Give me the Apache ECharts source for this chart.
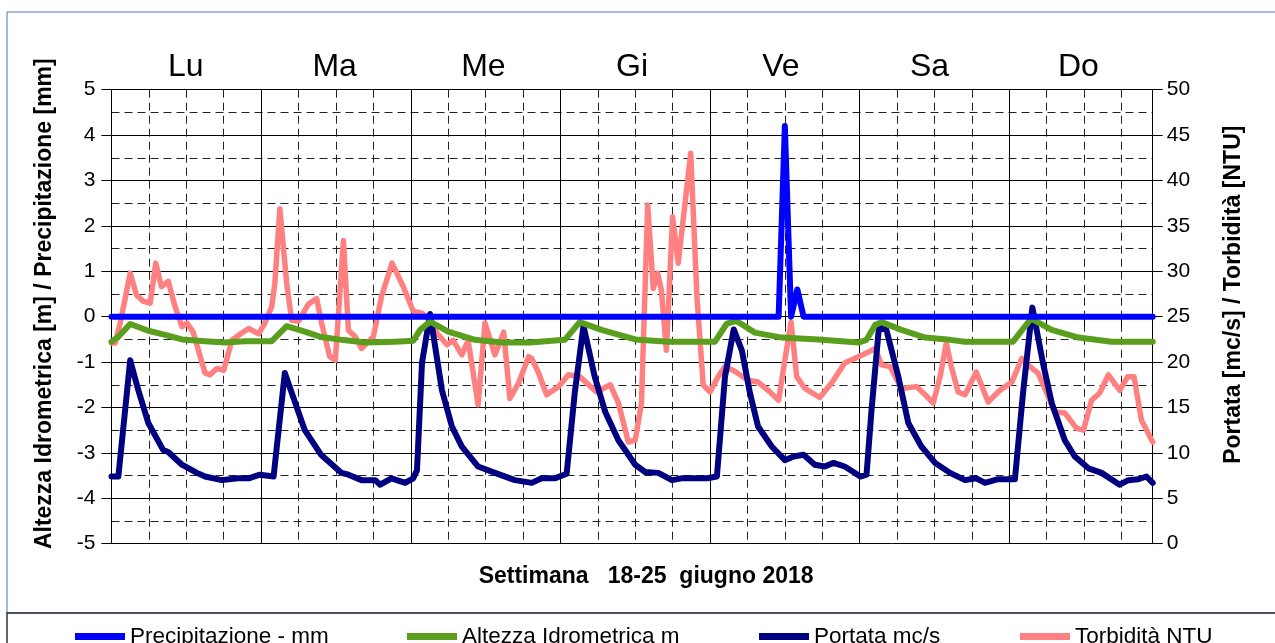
<!DOCTYPE html>
<html>
<head>
<meta charset="utf-8">
<script src="https://cdn.jsdelivr.net/npm/echarts@6/dist/echarts.min.js"></script>
<style>
  html, body { margin: 0; padding: 0; background: #fff; }
  #chart { width: 1275px; height: 643px; }
</style>
</head>
<body>
<div id="chart"></div>
<script>
// days shown on top of the chart
const dayLabels = ['Lu', 'Ma', 'Me', 'Gi', 'Ve', 'Sa', 'Do'];

// x = hours from monday 00:00, y = value
const precipitazione = [[0, 0], [107, 0], [108, 4.2], [109, 0], [110, 0.6], [111, 0], [167, 0]];

const altezza = [
  [0, -0.55], [1.1, -0.44], [3, -0.16], [5.9, -0.31], [8.6, -0.4], [11.3, -0.5], [15, -0.54], [18.2, -0.57],
  [21.4, -0.54], [25.7, -0.54], [28.1, -0.21], [31, -0.33], [33.4, -0.44], [36.9, -0.51], [40.7, -0.57],
  [45.5, -0.55], [48.4, -0.53], [49.5, -0.29], [51.1, -0.11], [54, -0.33], [58.3, -0.51], [62.6, -0.57],
  [67.1, -0.57], [72.7, -0.51], [75.1, -0.12], [78.6, -0.29], [84, -0.5], [89.3, -0.55], [96.8, -0.55],
  [98.7, -0.15], [100.2, -0.09], [103.2, -0.35], [107.5, -0.46], [113.4, -0.5], [119.8, -0.57], [121.1, -0.51],
  [122.5, -0.18], [123.5, -0.12], [126.7, -0.29], [130.5, -0.46], [134.5, -0.51], [136.9, -0.55], [144.6, -0.55],
  [147.5, -0.04], [150.8, -0.29], [155.1, -0.46], [160.4, -0.55], [167, -0.55]
];

const portata = [
  [0, 7.4], [1.1, 7.4], [3, 20.2], [4.3, 16.9], [5.9, 13.3], [8.3, 10.3], [9.1, 10.1], [11.3, 8.7], [13.7, 7.8],
  [15, 7.4], [17.7, 7.0], [20.3, 7.2], [22, 7.2], [23.8, 7.6], [26, 7.4], [27.8, 18.8], [31, 12.5], [33.6, 9.8],
  [36.9, 7.8], [38, 7.6], [40.1, 7.0], [42.3, 7.0], [43.1, 6.5], [44.9, 7.2], [47.1, 6.7], [48.4, 7.2], [49, 8.1],
  [49.8, 19.9], [51.1, 25.3], [53, 16.9], [54.6, 12.9], [56.2, 10.7], [58.8, 8.5], [61.5, 7.8], [64.7, 7.0],
  [67.4, 6.7], [69, 7.2], [71.1, 7.2], [73, 7.7], [74.3, 16.6], [75.7, 24.0], [77.5, 18.4], [79.2, 14.5],
  [81.3, 11.4], [84, 8.7], [85.6, 7.9], [87.7, 7.8], [89.9, 7.0], [91.4, 7.2], [95.5, 7.2], [97.1, 7.4],
  [98.4, 18.4], [99.8, 23.6], [101.1, 21.3], [102.4, 16.6], [103.7, 12.9], [105.9, 10.7], [108, 9.2],
  [109.4, 9.6], [111, 9.8], [112.8, 8.7], [114.4, 8.5], [115.8, 8.9], [117.6, 8.5], [119, 7.9], [120.1, 7.4],
  [121.1, 7.6], [121.9, 14.7], [123.1, 23.9], [124.3, 23.5], [126.2, 18.4], [127.8, 13.3], [129.9, 10.7],
  [132.1, 8.9], [134.5, 7.8], [136.9, 7.0], [138.7, 7.2], [140.1, 6.7], [142.2, 7.1], [144.9, 7.1], [146.2, 16.6],
  [147.7, 26.0], [149.4, 19.9], [150.8, 15.5], [152.9, 11.4], [154.5, 9.6], [156.7, 8.3], [158.8, 7.8],
  [161.7, 6.5], [163.1, 7.0], [164.7, 7.1], [166, 7.4], [167, 6.7]
];

const torbidita = [
  [0, 22.1], [0.6, 22.1], [1.4, 24.3], [3, 29.8], [4, 27.4], [5.1, 26.7], [6.2, 26.5], [7.1, 30.9], [8, 28.3],
  [9.1, 28.9], [10.2, 26.1], [11.3, 23.9], [12.1, 24.3], [13.1, 23.3], [15, 18.8], [15.8, 18.6], [16.9, 19.3],
  [18, 19.1], [19.3, 22.4], [20.9, 23.2], [22, 23.7], [23.6, 23.1], [24.6, 24.3], [25.7, 26.1], [26.2, 28.7],
  [27, 36.9], [28.1, 28.7], [28.9, 24.6], [30, 24.5], [31.6, 26.4], [32.9, 27], [33.7, 24.3], [35, 20.6],
  [35.9, 20.2], [37.2, 33.4], [38, 23.5], [39.1, 22.8], [40.1, 21.5], [42, 22.8], [43.3, 27.2], [45, 30.9],
  [46.8, 28.3], [48.4, 25.6], [49.8, 25.4], [51.1, 24.6], [52.2, 23.2], [53.8, 21.9], [54.8, 22.4], [56.2, 20.8],
  [57.2, 22.4], [58.8, 15.3], [59.9, 24.3], [61.5, 20.8], [62.9, 23.3], [63.9, 16], [65.3, 17.7], [66.9, 20.6],
  [67.4, 20.4], [68.5, 18.8], [69.8, 16.4], [71.7, 17.3], [73.3, 18.6], [75.1, 18.4], [77.8, 16.7], [80, 17.5],
  [81.3, 15.5], [82.9, 11.2], [84, 11.4], [85, 15.5], [86, 37.3], [86.9, 28.1], [87.6, 29.8], [88.2, 27.9],
  [89, 21.3], [90, 36], [90.9, 30.9], [92.9, 43], [93.9, 27.2], [94.9, 17.5], [96, 16.7], [97.3, 18.4],
  [98.4, 19.5], [99.7, 19.1], [100.8, 18.6], [102.1, 18], [103.7, 17.8], [105.3, 16.9], [107, 15.8], [108, 20.2],
  [109, 24.4], [109.9, 18.4], [111.2, 17.1], [113.6, 16.1], [115.5, 17.7], [117.6, 19.9], [119.8, 20.6],
  [121.4, 21.1], [122.5, 21.5], [123.5, 19.7], [124.9, 19.5], [126.7, 17.1], [129.1, 17.3], [130.5, 16.4],
  [131.8, 15.5], [132.9, 18.4], [133.9, 22.1], [134.7, 19.5], [135.8, 16.7], [136.9, 16.4], [138.7, 18.9],
  [140.6, 15.6], [142.5, 16.9], [144.4, 17.8], [146, 20.4], [147.3, 19.5], [148.6, 18.8], [150, 16.6],
  [151.3, 14.5], [152.9, 14.4], [154.8, 12.7], [155.9, 12.5], [157.2, 15.8], [158.5, 16.6], [159.9, 18.6],
  [161.7, 16.9], [163, 18.4], [164, 18.4], [165.2, 13.6], [167, 11.2]
];

const font = 'Liberation Sans, Arial, sans-serif';
const dash = [8, 5];

const chart = echarts.init(document.getElementById('chart'));

function lineSeries(name, data, color, yIdx, width) {
  return {
    name: name,
    type: 'line',
    data: data,
    xAxisIndex: 0,
    yAxisIndex: yIdx,
    showSymbol: false,
    symbol: 'none',
    lineStyle: { color: color, width: width, join: 'round', cap: 'round' },
    itemStyle: { color: color },
  };
}

function legendItem(name, left) {
  return {
    data: [name],
    left: left,
    top: 620,
    icon: 'rect',
    itemWidth: 50,
    itemHeight: 7,
    textStyle: { fontFamily: font, fontSize: 22.5, color: '#000' },
    selectedMode: false,
  };
}

const options = {
  animation: false,
  backgroundColor: '#fff',
  textStyle: { fontFamily: font },
  grid: { left: 111.5, right: 122.3, top: 89.7, bottom: 99.3, containLabel: false },
  legend: [
    legendItem('Precipitazione - mm', 70),
    legendItem('Altezza Idrometrica m', 402),
    legendItem('Portata mc/s', 754),
    legendItem('Torbidità NTU', 1015),
  ],
  xAxis: [
    {
      // quarter-day dashed grid + ticks
      type: 'value', min: 0, max: 167, interval: 6, position: 'bottom',
      axisLine: { show: true, lineStyle: { color: '#000', width: 1 } },
      axisTick: { show: true, inside: false, length: 9, lineStyle: { color: '#000' } },
      axisLabel: { show: false },
      splitLine: { show: true, lineStyle: { color: ['transparent', '#222', '#222', '#222'], type: dash, width: 1 } },
      name: 'Settimana   18-25  giugno 2018',
      nameLocation: 'middle',
      nameGap: 21,
      nameTextStyle: { fontFamily: font, fontSize: 23, fontWeight: 'bold', color: '#000', padding: [0, 0, 0, 28] },
    },
    {
      // day solid grid
      type: 'value', min: 0, max: 167, interval: 24, position: 'bottom',
      axisLine: { show: false }, axisTick: { show: false }, axisLabel: { show: false },
      splitLine: { show: true, lineStyle: { color: '#000', width: 1 } },
    },
    {
      type: 'category', data: dayLabels, position: 'top', boundaryGap: true,
      axisLine: { show: false }, axisTick: { show: false }, splitLine: { show: false },
      axisLabel: { fontFamily: font, fontSize: 32, color: '#000', margin: 7 },
    },
  ],
  yAxis: [
    {
      type: 'value', position: 'left', min: -5, max: 5, interval: 1,
      axisLine: { show: true, lineStyle: { color: '#000', width: 1 } },
      axisTick: { show: true, length: 10, lineStyle: { color: '#000' } },
      axisLabel: { fontFamily: font, fontSize: 21, color: '#000', margin: 16 },
      splitLine: { show: true, lineStyle: { color: '#000', width: 1 } },
      name: 'Altezza Idrometrica [m] / Precipitazione [mm]',
      nameLocation: 'middle', nameRotate: 90, nameGap: 55,
      nameTextStyle: { fontFamily: font, fontSize: 23, fontWeight: 'bold', color: '#000', padding: [0, 0, 0, 26] },
    },
    {
      type: 'value', position: 'left', min: -5, max: 5, interval: 0.5,
      axisLine: { show: false }, axisTick: { show: false }, axisLabel: { show: false },
      splitLine: { show: true, lineStyle: { color: ['transparent', '#222'], type: dash, width: 1 } },
    },
    {
      type: 'value', position: 'right', min: 0, max: 50, interval: 5,
      axisLine: { show: true, lineStyle: { color: '#000', width: 1 } },
      axisTick: { show: true, length: 10, lineStyle: { color: '#000' } },
      axisLabel: { fontFamily: font, fontSize: 21, color: '#000', margin: 14 },
      splitLine: { show: false },
      name: 'Portata [mc/s] / Torbidità [NTU]',
      nameLocation: 'middle', nameRotate: 90, nameGap: 69,
      nameTextStyle: { fontFamily: font, fontSize: 23, fontWeight: 'bold', color: '#000', padding: [0, 0, 0, 44] },
    },
  ],
  graphic: [
    { type: 'rect', shape: { x: 7, y: 12, width: 1300, height: 601 }, style: { fill: null, stroke: '#4472C4', lineWidth: 1 }, silent: true },
    { type: 'rect', shape: { x: 7, y: 613, width: 1300, height: 60 }, style: { fill: null, stroke: '#333', lineWidth: 1.5 }, silent: true },
  ],
  series: [
    lineSeries('Torbidità NTU', torbidita, '#FF8080', 2, 5.5),
    lineSeries('Portata mc/s', portata, '#000080', 2, 6),
    lineSeries('Altezza Idrometrica m', altezza, '#5A9E1E', 0, 6),
    lineSeries('Precipitazione - mm', precipitazione, '#0000FF', 0, 6),
  ],
};

chart.setOption(options);
</script>
</body>
</html>
